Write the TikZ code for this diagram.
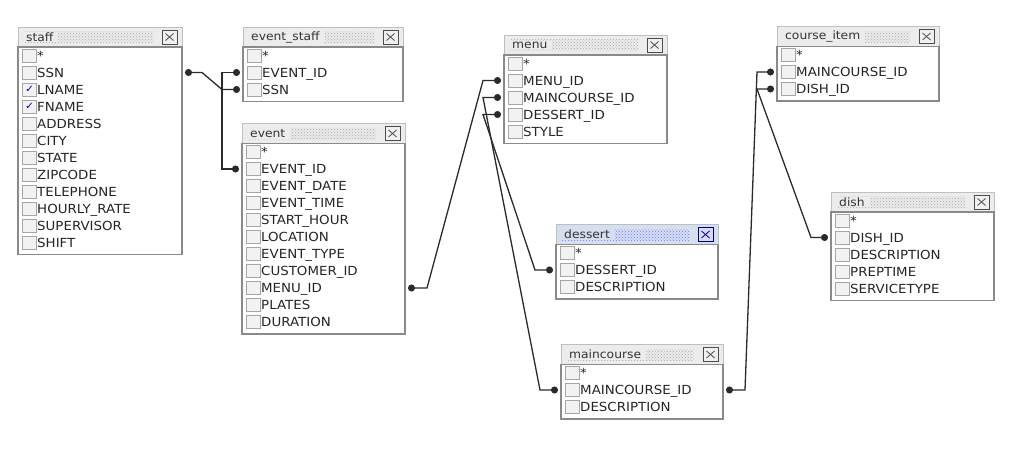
\documentclass[tikz,border=0pt]{standalone}
\usepackage{fontspec}
\setmainfont{DejaVu Sans}[FakeStretch=1.07]
\usetikzlibrary{arrows.meta,patterns}

\definecolor{headgray}{HTML}{ECECEC}
\definecolor{headblue}{HTML}{D5DFF0}
\definecolor{framegray}{HTML}{8A8A8A}
\definecolor{linkgray}{HTML}{2A2A2A}

\tikzset{
  plainbar/.style={fill=headgray},
  selbar/.style={fill=headblue},
  plaindots/.style={pattern=crosshatch dots, pattern color=black!35},
  seldots/.style={pattern=crosshatch dots, pattern color=blue!55},
  plainbtn/.style={draw=black!70, fill=black!6, line width=1pt},
  selbtn/.style={draw=blue!45!black, fill=blue!15, line width=1pt},
  headtxt/.style={anchor=west, inner xsep=5pt, inner ysep=1pt, font=\fontsize{11.5}{12}\selectfont, text=black!80},
  tabbody/.style={draw=framegray, line width=1.6pt, fill=white, anchor=north west, inner sep=0pt, outer sep=0pt},
  chk/.style={draw=black!35, fill=black!5, minimum width=14pt, minimum height=13pt, inner sep=0pt, line width=0.8pt},
  fldtxt/.style={anchor=west, inner sep=0pt, text height=9pt, text depth=0pt, font=\fontsize{12.5}{13}\selectfont, text=black!85, label distance=3pt},
  fld/.style={fldtxt, label={[chk]left:{}}},
  fldon/.style={fldtxt, label={[chk, text=blue!75!black, font=\fontsize{10}{10}\selectfont]left:✓}},
  fk/.style={draw=linkgray, line width=1.3pt, {Circle[length=7pt]}-{Circle[length=7pt]}}
}

\newcommand{\dbhead}[5][plain]{%
  \fill[#1bar, draw=black!25, line width=0.6pt] (0,0) rectangle (#4,20);
  \fill[#1dots] (6,4.5) rectangle (#4-29,15.5);
  \node[headtxt, #1bar] at (3,10) {#3};
  \filldraw[#1btn] (#4-20,3) rectangle (#4-5,17);
  \draw[#1btn, fill=none, line width=0.8pt] (#4-16.5,6.5) -- (#4-8.5,13.5) (#4-16.5,13.5) -- (#4-8.5,6.5);
  \node[tabbody, minimum width=#4pt, minimum height={20.5pt+(#5-1)*17pt}] (#2) at (0,20) {};
}

\begin{document}
\begin{tikzpicture}[x=1pt,y=-1pt]
  \useasboundingbox (0,0) rectangle (1024,455);
  \begin{scope}[shift={(18,27)}]
    \dbhead{staff}{staff}{164}{12}
    \path (19,28.5) node[fld] (st0) {*}
      ++(0,17) node[fld] (st1) {SSN}
      ++(0,17) node[fldon] (st2) {LNAME}
      ++(0,17) node[fldon] (st3) {FNAME}
      ++(0,17) node[fld] (st4) {ADDRESS}
      ++(0,17) node[fld] (st5) {CITY}
      ++(0,17) node[fld] (st6) {STATE}
      ++(0,17) node[fld] (st7) {ZIPCODE}
      ++(0,17) node[fld] (st8) {TELEPHONE}
      ++(0,17) node[fld] (st9) {HOURLY\_RATE}
      ++(0,17) node[fld] (st10) {SUPERVISOR}
      ++(0,17) node[fld] (st11) {SHIFT};
  \end{scope}
  \begin{scope}[shift={(243,27)}]
    \dbhead{evstaff}{event\_staff}{160}{3}
    \path (19,28.5) node[fld] (es0) {*}
      ++(0,17) node[fld] (es1) {EVENT\_ID}
      ++(0,17) node[fld] (es2) {SSN};
  \end{scope}
  \begin{scope}[shift={(242,123.5)}]
    \dbhead{event}{event}{163}{11}
    \path (19,28.5) node[fld] (ev0) {*}
      ++(0,17) node[fld] (ev1) {EVENT\_ID}
      ++(0,17) node[fld] (ev2) {EVENT\_DATE}
      ++(0,17) node[fld] (ev3) {EVENT\_TIME}
      ++(0,17) node[fld] (ev4) {START\_HOUR}
      ++(0,17) node[fld] (ev5) {LOCATION}
      ++(0,17) node[fld] (ev6) {EVENT\_TYPE}
      ++(0,17) node[fld] (ev7) {CUSTOMER\_ID}
      ++(0,17) node[fld] (ev8) {MENU\_ID}
      ++(0,17) node[fld] (ev9) {PLATES}
      ++(0,17) node[fld] (ev10) {DURATION};
  \end{scope}
  \begin{scope}[shift={(504,35)}]
    \dbhead{menu}{menu}{163}{5}
    \path (19,28.5) node[fld] (mn0) {*}
      ++(0,17) node[fld] (mn1) {MENU\_ID}
      ++(0,17) node[fld] (mn2) {MAINCOURSE\_ID}
      ++(0,17) node[fld] (mn3) {DESSERT\_ID}
      ++(0,17) node[fld] (mn4) {STYLE};
  \end{scope}
  \begin{scope}[shift={(556,224.5)}]
    \dbhead[sel]{dessert}{dessert}{162}{3}
    \path (19,28.5) node[fld] (ds0) {*}
      ++(0,17) node[fld] (ds1) {DESSERT\_ID}
      ++(0,17) node[fld] (ds2) {DESCRIPTION};
  \end{scope}
  \begin{scope}[shift={(561,344.5)}]
    \dbhead{mcourse}{maincourse}{162}{3}
    \path (19,28.5) node[fld] (mc0) {*}
      ++(0,17) node[fld] (mc1) {MAINCOURSE\_ID}
      ++(0,17) node[fld] (mc2) {DESCRIPTION};
  \end{scope}
  \begin{scope}[shift={(777,26.5)}]
    \dbhead{citem}{course\_item}{162}{3}
    \path (19,28.5) node[fld] (ci0) {*}
      ++(0,17) node[fld] (ci1) {MAINCOURSE\_ID}
      ++(0,17) node[fld] (ci2) {DISH\_ID};
  \end{scope}
  \begin{scope}[shift={(831,192)}]
    \dbhead{dish}{dish}{163}{5}
    \path (19,28.5) node[fld] (dh0) {*}
      ++(0,17) node[fld] (dh1) {DISH\_ID}
      ++(0,17) node[fld] (dh2) {DESCRIPTION}
      ++(0,17) node[fld] (dh3) {PREPTIME}
      ++(0,17) node[fld] (dh4) {SERVICETYPE};
  \end{scope}
  \draw[fk] ([xshift=3pt]staff.east |- st1) -- ++(17,0)
    -- ([xshift=-21pt]evstaff.west |- es2) -- ([xshift=-3pt]evstaff.west |- es2);
  \draw[fk] ([xshift=-3pt]evstaff.west |- es1) -- ([xshift=-21pt]evstaff.west |- es1)
    -- ([xshift=-21pt]evstaff.west |- ev1) -- ([xshift=-3pt]event.west |- ev1);
  \draw[fk] ([xshift=3pt]event.east |- ev8) -- ++(19,0)
    -- ([xshift=-21pt]menu.west |- mn1) -- ([xshift=-3pt]menu.west |- mn1);
  \draw[fk] ([xshift=-3pt]menu.west |- mn2) -- ([xshift=-21pt]menu.west |- mn2)
    -- ([xshift=-21pt]mcourse.west |- mc1) -- ([xshift=-3pt]mcourse.west |- mc1);
  \draw[fk] ([xshift=-3pt]menu.west |- mn3) -- ([xshift=-21pt]menu.west |- mn3)
    -- ([xshift=-21pt]dessert.west |- ds1) -- ([xshift=-3pt]dessert.west |- ds1);
  \draw[fk] ([xshift=3pt]mcourse.east |- mc1) -- ++(19,0)
    -- ([xshift=-20pt]citem.west |- ci1) -- ([xshift=-3pt]citem.west |- ci1);
  \draw[fk] ([xshift=-3pt]citem.west |- ci2) -- ([xshift=-20pt]citem.west |- ci2)
    -- ([xshift=-20pt]dish.west |- dh1) -- ([xshift=-3pt]dish.west |- dh1);
\end{tikzpicture}
\end{document}
